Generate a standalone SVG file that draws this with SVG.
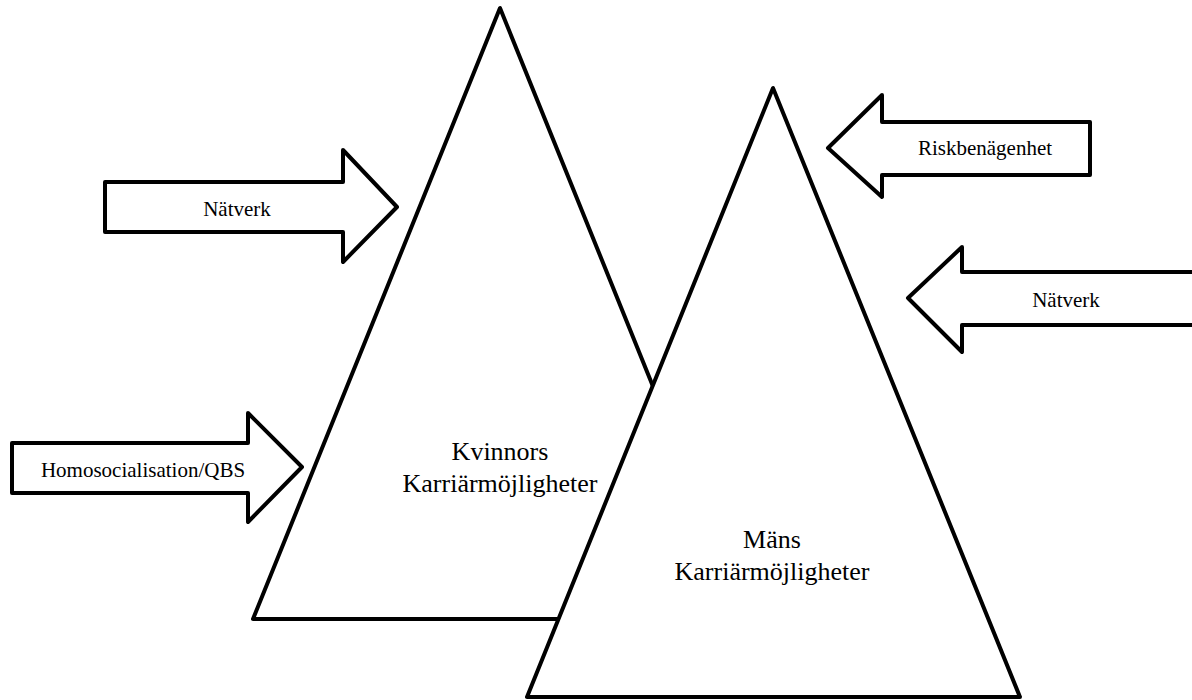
<svg xmlns="http://www.w3.org/2000/svg" width="1192" height="700" viewBox="0 0 1192 700">
<style>
.shape{fill:#fff;stroke:#000;stroke-width:4;stroke-linejoin:round}
.lbl{font-family:"Liberation Serif","Times New Roman",serif;font-size:21px;fill:#000;text-anchor:middle}
.big{font-family:"Liberation Serif","Times New Roman",serif;font-size:26px;fill:#000;text-anchor:middle}
</style>
<rect width="1192" height="700" fill="#fff"/>
<g id="tri-kvinnor">
<polygon class="shape" points="500,8 253,619 747,619"/>
<text class="big" x="500" y="460">Kvinnors</text>
<text class="big" x="500" y="492">Karriärmöjligheter</text>
</g>
<g id="tri-man">
<polygon class="shape" points="773,88 527,697 1020,697"/>
<text class="big" x="772" y="548">Mäns</text>
<text class="big" x="772" y="580">Karriärmöjligheter</text>
</g>
<g id="connectors">
<g id="arrow-natverk-left">
<polygon class="shape" points="105,182 343,182 343,150 397,207 343,262 343,232 105,232"/>
<text class="lbl" x="237" y="216">Nätverk</text>
</g>
<g id="arrow-homosocialisation">
<polygon class="shape" points="12,443 248,443 248,413 302,467 248,522 248,493 12,493"/>
<text class="lbl" x="143" y="477">Homosocialisation/QBS</text>
</g>
<g id="arrow-riskbenagenhet">
<polygon class="shape" points="1090,122 882,122 882,95 828,148 882,197 882,175 1090,175"/>
<text class="lbl" x="985" y="155">Riskbenägenhet</text>
</g>
<g id="arrow-natverk-right">
<polygon class="shape" points="1200,272 962,272 962,247 908,298 962,352 962,325 1200,325"/>
<text class="lbl" x="1066" y="307">Nätverk</text>
</g>
</g>
</svg>
